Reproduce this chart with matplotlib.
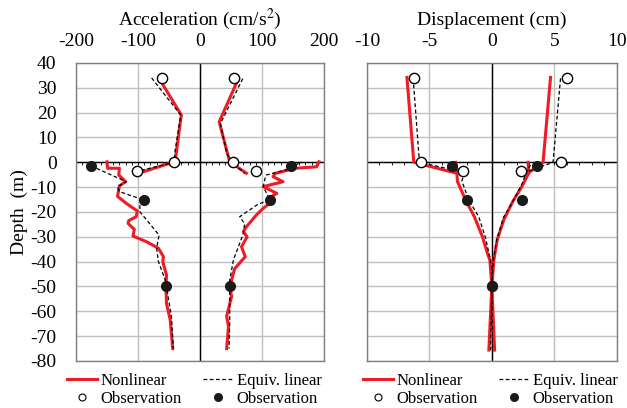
import numpy as np
import matplotlib
matplotlib.use("Agg")
from matplotlib import pyplot as plt
from matplotlib.lines import Line2D

plt.rcParams['font.family'] = ['Liberation Serif', 'DejaVu Serif']
plt.rcParams['mathtext.fontset'] = 'stix'
plt.rcParams['axes.unicode_minus'] = False

# ---- acceleration (cm/s^2) ----
# upper array: surface down to -4.5 m
acc_nl_up_depth_min = [33, 19, 15.7, 0.3, -4.3]
acc_nl_up_min = [-64, -30, -32, -40, -98]
acc_nl_up_depth_max = [33.7, 16.3, 0.2, -4.4]
acc_nl_up_max = [62, 31, 48, 75]
acc_el_up_depth_min = [34, 19, 5, 0, -3.6]
acc_el_up_min = [-78, -31, -40, -42, -101]
acc_el_up_depth_max = [33.7, 15.6, 3.6, 0, -4.5]
acc_el_up_max = [69, 33, 43, 52, 72]

# borehole array: 0 to -75 m
acc_nl_lo_depth_min = [0.2, -2.4, -2.4, -5.1, -7.8, -9.5, -13.7, -16.5, -19.6, -21.9, -23.5,
                       -24.6, -27, -29.7, -32, -34.6, -38, -40, -45.4, -50, -56.8, -63.5, -75]
acc_nl_lo_min = [-150, -149, -130, -131, -120, -130, -133, -119, -101, -103, -115,
                 -116, -106, -108, -86, -67, -59, -60, -54, -55, -54, -48, -44]
acc_el_lo_depth_min = [-1.4, -7.8, -9.8, -11.8, -15.2, -16.5, -19.9, -29.3, -34.6, -40, -47.4, -50, -62.2, -75]
acc_el_lo_min = [-176, -119, -133, -130, -90, -97, -97, -66, -70, -67, -56, -54, -46, -43]
acc_nl_lo_depth_max = [0.2, -1.8, -2.4, -4.5, -5.8, -7.8, -9.8, -12.5, -14.5, -15.9, -18.5, -21.2,
                       -25.9, -27.9, -30, -34, -38, -42.8, -47.4, -50, -54, -62, -66, -75]
acc_nl_lo_max = [192, 188, 153, 121, 118, 134, 102, 124, 110, 116, 102, 91,
                 75, 70, 76, 67, 73, 56, 51, 48, 51, 43, 46, 43]
acc_el_lo_depth_max = [-0.4, -2.4, -5.1, -6.4, -9.8, -15.2, -16.8, -21.9, -24.7, -28.6, -34, -39.3, -47.4, -50, -63.5, -75]
acc_el_lo_max = [159, 148, 107, 105, 102, 113, 94, 64, 72, 70, 62, 54, 48, 48, 48, 47]

acc_obs_open_depth = [34, 0, -3.5, 34, 0, -3.4]
acc_obs_open = [-62, -42, -101, 55, 53, 91]
acc_obs_fill_depth = [-1.5, -15.2, -50, -1.5, -15.2, -50]
acc_obs_fill = [-176, -90, -55, 147, 113, 48]

# ---- displacement (cm) ----
dis_nl_up_depth = [34.2, 0, -4.4]
dis_nl_up_min = [-6.8, -6.25, -2.8]
dis_nl_up_max = [4.7, 4.1, 2.9]
dis_el_up_depth = [33.8, 0, -3.8]
dis_el_up_min = [-6.3, -5.8, -2.4]
dis_el_up_max = [5.5, 4.9, 2.8]

dis_nl_lo_depth_min = [0, -4.4, -7.8, -15.2, -21.9, -30, -36.7, -39.3, -50, -75.6]
dis_nl_lo_min = [-2.9, -2.8, -2.75, -2.1, -1.4, -0.75, -0.35, -0.16, 0, -0.24]
dis_nl_lo_depth_max = [0, -4.4, -9.8, -15.5, -23.2, -31.2, -39.3, -50, -75.6]
dis_nl_lo_max = [2.9, 2.95, 2.4, 1.7, 0.95, 0.43, 0.16, 0, 0.22]
dis_el_lo_depth_min = [-1.1, -4.4, -7.5, -15.2, -21.9, -30.5, -42, -50, -75.6]
dis_el_lo_min = [-3.1, -2.2, -2.4, -1.85, -1.05, -0.5, 0, 0, -0.1]
dis_el_lo_depth_max = [-1.1, -4.4, -7.8, -15.2, -22, -31, -40, -50, -75.6]
dis_el_lo_max = [3.1, 2.7, 2.5, 1.75, 0.95, 0.4, 0.1, 0, 0.05]

dis_obs_open_depth = [34, 0, -3.5, 34, 0, -3.5]
dis_obs_open = [-6.2, -5.7, -2.3, 6.0, 5.5, 2.3]
dis_obs_fill_depth = [-1.5, -15.2, -50, -1.5, -15.2, -50]
dis_obs_fill = [-3.2, -2.0, 0, 3.6, 2.4, 0]

RED = '#ee1c25'
GRID = '#c0c0c0'
FRAME = '#808080'


def nl(ax, x, y):
    ax.plot(x, y, color=RED, lw=2.2, zorder=3)


def el(ax, x, y):
    ax.plot(x, y, color='black', lw=0.9, ls=(0, (3, 2)), zorder=4)


def setup(ax, lim, major, minor, xlabel, show_y):
    ax.set_xlim(-lim, lim)
    ax.set_ylim(-80, 40)
    ax.set_xticks(np.arange(-lim, lim + 1, major))
    ax.set_yticks(np.arange(-80, 41, 10))
    ax.xaxis.tick_top()
    ax.xaxis.set_label_position('top')
    ax.set_xlabel(xlabel, fontsize=14, labelpad=6)
    ax.tick_params(axis='x', length=0, labelsize=14, pad=9)
    ax.tick_params(axis='y', length=0, labelsize=14, pad=14)
    if not show_y:
        ax.set_yticklabels([])
    ax.grid(True, color=GRID, lw=1.0, zorder=0)
    for s in ax.spines.values():
        s.set_color(FRAME)
        s.set_linewidth(1.0)
    ax.axhline(0, color='black', lw=1.0, zorder=2)
    ax.axvline(0, color='black', lw=1.0, zorder=2)
    ticks = np.arange(-lim, lim + minor / 2, minor)
    ax.vlines(ticks, -1.2, 0, color='black', lw=0.6, zorder=2)


def obs(ax, xo, yo, xf, yf):
    ax.plot(xo, yo, 'o', ms=7.4, mfc='white', mec='black', mew=1.0, ls='none', zorder=5)
    ax.plot(xf, yf, 'o', ms=7.0, mfc='#1a1a1a', mec='#1a1a1a', ls='none', zorder=5)


fig = plt.figure(figsize=(6.27, 4.08), dpi=100)
ax1 = fig.add_axes([0.1212, 0.1152, 0.3955, 0.7304])
ax2 = fig.add_axes([0.5853, 0.1152, 0.3983, 0.7304])

# acceleration panel
setup(ax1, 200, 100, 10, 'Acceleration (cm/s$^2$)', True)
ax1.set_ylabel('Depth  (m)', fontsize=14, labelpad=2)
nl(ax1, acc_nl_up_min, acc_nl_up_depth_min)
nl(ax1, acc_nl_up_max, acc_nl_up_depth_max)
el(ax1, acc_el_up_min, acc_el_up_depth_min)
el(ax1, acc_el_up_max, acc_el_up_depth_max)
nl(ax1, acc_nl_lo_min, acc_nl_lo_depth_min)
nl(ax1, acc_nl_lo_max, acc_nl_lo_depth_max)
el(ax1, acc_el_lo_min, acc_el_lo_depth_min)
el(ax1, acc_el_lo_max, acc_el_lo_depth_max)
obs(ax1, acc_obs_open, acc_obs_open_depth, acc_obs_fill, acc_obs_fill_depth)

# displacement panel
setup(ax2, 10, 5, 1, 'Displacement (cm)', False)
nl(ax2, dis_nl_up_min, dis_nl_up_depth)
nl(ax2, dis_nl_up_max, dis_nl_up_depth)
el(ax2, dis_el_up_min, dis_el_up_depth)
el(ax2, dis_el_up_max, dis_el_up_depth)
nl(ax2, dis_nl_lo_min, dis_nl_lo_depth_min)
nl(ax2, dis_nl_lo_max, dis_nl_lo_depth_max)
el(ax2, dis_el_lo_min, dis_el_lo_depth_min)
el(ax2, dis_el_lo_max, dis_el_lo_depth_max)
obs(ax2, dis_obs_open, dis_obs_open_depth, dis_obs_fill, dis_obs_fill_depth)

# legends below each panel
handles = [
    Line2D([], [], color=RED, lw=2.2),
    Line2D([], [], marker='o', ms=5, mfc='white', mec='black', mew=0.8, ls='none'),
    Line2D([], [], color='black', lw=0.9, ls=(0, (3, 2))),
    Line2D([], [], marker='o', ms=5.5, mfc='#1a1a1a', mec='#1a1a1a', ls='none'),
]
labels = ['Nonlinear', 'Observation', 'Equiv. linear', 'Observation']
for x0 in (0.1069, 0.579):
    fig.legend(handles, labels, ncol=2, loc='upper left', bbox_to_anchor=(x0, 0.087),
               frameon=False, fontsize=12, handlelength=1.8, handletextpad=0.2,
               columnspacing=1.3, labelspacing=0.12, borderpad=0, borderaxespad=0)

fig.savefig('out.png', dpi=100)
